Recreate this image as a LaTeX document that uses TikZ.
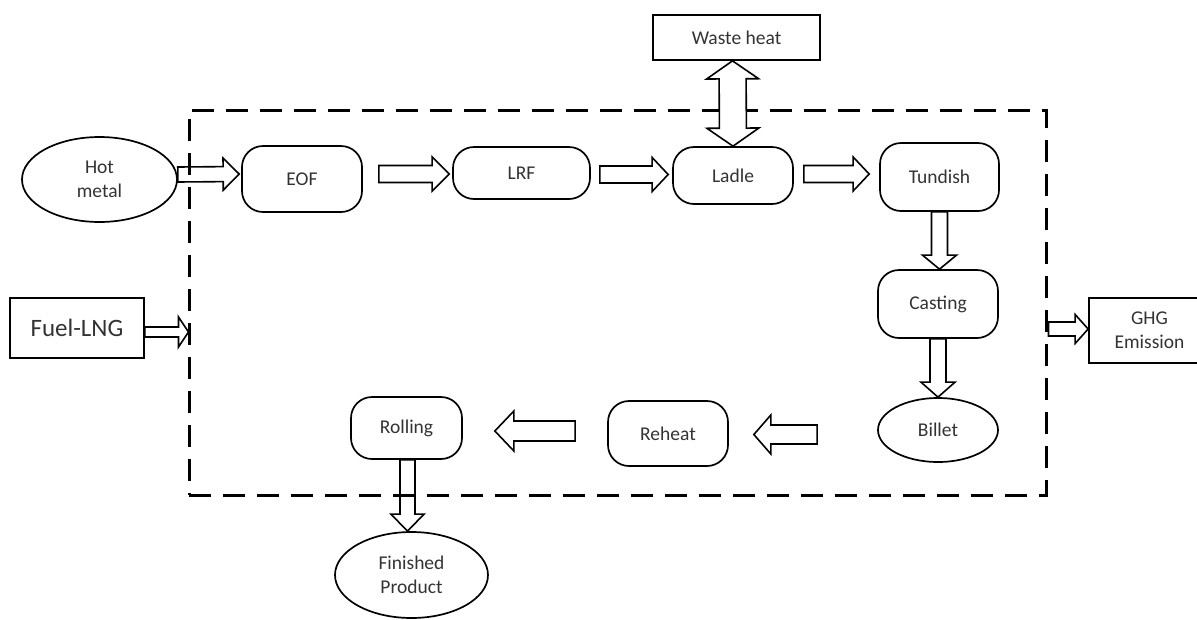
\documentclass[tikz,border=0pt]{standalone}
\usepackage{fontspec}
\setmainfont{Carlito}
\usetikzlibrary{shapes.geometric,calc}
\definecolor{txt}{HTML}{333333}
\tikzset{
  base/.style={draw=black, line width=1.7pt, inner sep=0pt, text=txt, align=center,
               font=\fontsize{19.5}{24}\selectfont},
  procbox/.style={base, rectangle, rounded corners=21pt},
  ovalbox/.style={base, ellipse},
  plainbox/.style={base, rectangle},
  barrow/.style={draw=black, line width=1.6pt, line join=miter},
  sysline/.style={draw=black, line width=3pt, dash pattern=on 22pt off 12pt}
}
\newcommand{\blockarrow}[6]{%
  \draw[barrow,#6] let \p1=(#1), \p2=(#2), \n1={atan2(\y2-\y1,\x2-\x1)}, \n2={veclen(\x2-\x1,\y2-\y1)} in
   [shift={(\p1)},rotate=\n1] (0,#3) -- ({\n2-#5},#3) -- ({\n2-#5},#4) -- (\n2,0) -- ({\n2-#5},-#4) -- ({\n2-#5},-#3) -- (0,-#3) -- cycle;}
\newcommand{\dblarrow}[5]{%
  \draw[barrow,fill=white] let \p1=(#1), \p2=(#2), \n1={atan2(\y2-\y1,\x2-\x1)}, \n2={veclen(\x2-\x1,\y2-\y1)} in
   [shift={(\p1)},rotate=\n1] (0,0) -- (#5,#4) -- (#5,#3) -- ({\n2-#5},#3) -- ({\n2-#5},#4) -- (\n2,0) -- ({\n2-#5},-#4) -- ({\n2-#5},-#3) -- (#5,-#3) -- (#5,-#4) -- cycle;}
\begin{document}
\begin{tikzpicture}[x=1pt,y=-1pt]
\useasboundingbox (0,0) rectangle (1197,619);
% system boundary
\node[sysline, rectangle, minimum width=857pt, minimum height=385pt, inner sep=0pt] (sys) at (617.5,302.5) {};
% nodes
\node[ovalbox, minimum width=155pt, minimum height=85pt] (hot) at (99.5,179.5) {Hot\\metal};
\node[procbox, minimum width=120pt, minimum height=66pt] (eof) at (302,179) {EOF};
\node[procbox, minimum width=137pt, minimum height=52pt] (lrf) at (521.5,173) {LRF};
\node[procbox, minimum width=120pt, minimum height=57pt] (ladle) at (733,175.5) {\raisebox{-3pt}{Ladle}};
\node[procbox, minimum width=119pt, minimum height=68pt] (tundish) at (939.5,177) {Tundish};
\node[procbox, minimum width=120pt, minimum height=68pt] (casting) at (938,304) {Casting};
\node[ovalbox, minimum width=120pt, minimum height=64pt] (billet) at (938,430) {\raisebox{-4pt}{Billet}};
\node[procbox, minimum width=120pt, minimum height=65pt] (reheat) at (668,433.5) {\raisebox{-4pt}{Reheat}};
\node[procbox, minimum width=111pt, minimum height=62pt] (rolling) at (406.5,428) {Rolling};
\node[ovalbox, minimum width=153pt, minimum height=86pt] (finished) at (411.5,575) {Finished\\Product};
\node[plainbox, minimum width=167pt, minimum height=45pt] (waste) at (736.5,37.5) {Waste heat};
\node[plainbox, minimum width=134pt, minimum height=60pt, font=\fontsize{25}{30}\selectfont] (fuel) at (77,328) {Fuel-LNG};
\node[plainbox, minimum width=121pt, minimum height=65pt] (ghg) at (1149.5,330.5) {GHG\\Emission};
% connectors
\blockarrow{$(hot.east)+(0,-5)$}{$(eof.west)+(-2,-5)$}{7.5}{16}{16}{}
\blockarrow{$(eof.east)+(16,-5)$}{$(lrf.west)+(-3,1)$}{8.5}{17}{17}{fill=white}
\blockarrow{$(lrf.east)+(9,1.5)$}{$(ladle.west)+(-4,-1)$}{8.5}{17}{16}{fill=white}
\blockarrow{$(ladle.east)+(10,-1.5)$}{$(tundish.west)+(-10,-3)$}{8.5}{17}{16}{fill=white}
\blockarrow{$(tundish.south)+(0,0)$}{$(casting.north)+(1.5,0)$}{8}{17}{14}{fill=white}
\blockarrow{$(casting.south)+(0,0)$}{$(billet.north)+(0,0)$}{8}{17}{15}{fill=white}
\blockarrow{$(billet.west)+(-60,4.5)$}{$(reheat.east)+(25,1)$}{9.5}{19.5}{17}{fill=white}
\blockarrow{$(reheat.west)+(-32,-2.5)$}{$(rolling.east)+(32,3)$}{10}{20}{19}{fill=white}
\blockarrow{$(rolling.south)+(1,0)$}{$(finished.north)+(-4,0)$}{7.5}{16.5}{17}{}
\blockarrow{$(fuel.east)+(0,4)$}{$(sys.west)+(1,29.5)$}{5}{15}{10}{fill=white}
\blockarrow{$(sys.east)+(1,26.5)$}{$(ghg.west)+(0,-1.5)$}{7}{14.5}{13}{fill=white}
\dblarrow{$(waste.south)+(-4,0)$}{$(ladle.north)+(0,0)$}{13.5}{26}{18}
\end{tikzpicture}
\end{document}
